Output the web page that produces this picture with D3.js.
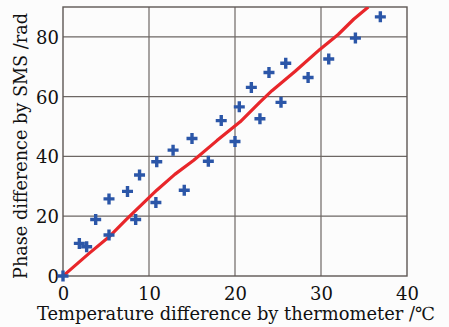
<html>
<head>
<meta charset="utf-8">
<style>
  body { margin: 0; background: #fcfcfc; }
  svg { display: block; }
  text { font-family: "DejaVu Serif", serif; fill: #111; }
</style>
</head>
<body>
<svg id="chart" width="449" height="327"></svg>
<script src="https://d3js.org/d3.v7.min.js"></script>
<script>
// measured points (thermometer dT, SMS phase)
const measTemp  = [0, 1.9, 2.75, 3.8, 5.35, 5.35, 7.5, 8.45, 8.9, 10.8, 10.9, 12.8, 14.1, 15.0, 16.9, 18.4, 20.0, 20.5, 21.9, 22.9, 23.95, 25.35, 25.9, 28.5, 30.9, 34.0, 36.9];
const measPhase = [0, 10.9, 9.8, 18.9, 25.8, 13.7, 28.3, 18.9, 33.8, 24.6, 38.2, 42.1, 28.7, 46.0, 38.4, 52.0, 45.0, 56.6, 63.1, 52.6, 68.1, 58.1, 71.2, 66.4, 72.6, 79.6, 86.7];

// red reference curve
const lineTemp  = [0, 3, 5.5, 7.4, 10.9, 13, 15.2, 17.9, 20.6, 22.9, 24.3, 27, 29.9, 32, 33.8, 35.5];
const linePhase = [0, 7.5, 13.5, 19, 28.7, 34, 38.7, 45.3, 51.6, 58.2, 62, 68.5, 75.9, 80.8, 85.9, 90];

const xTicks = [0, 10, 20, 30, 40];
const yTicks = [0, 20, 40, 60, 80];

const margin = { left: 63, top: 7, right: 42, bottom: 51 };
const svg = d3.select("#chart");
const W = 449 - margin.left - margin.right;
const H = 327 - margin.top - margin.bottom;

const x = d3.scaleLinear().domain([0, 40]).range([0, W]);
const y = d3.scaleLinear().domain([0, 90]).range([H, 0]);

const g = svg.append("g").attr("transform", `translate(${margin.left},${margin.top})`);

svg.append("defs").append("clipPath").attr("id", "clip")
  .append("rect").attr("width", W).attr("height", H);

// grid
g.selectAll(".vgrid").data(xTicks.slice(1, -1)).enter().append("line")
  .attr("x1", d => x(d)).attr("x2", d => x(d))
  .attr("y1", 0).attr("y2", H)
  .attr("stroke", "#6d6764").attr("stroke-width", 1.2);
g.selectAll(".hgrid").data(yTicks.slice(1)).enter().append("line")
  .attr("x1", 0).attr("x2", W)
  .attr("y1", d => y(d)).attr("y2", d => y(d))
  .attr("stroke", "#6d6764").attr("stroke-width", 1.2);

// frame
g.append("rect").attr("width", W).attr("height", H)
  .attr("fill", "none").attr("stroke", "#5e5855").attr("stroke-width", 1.4);

// axes (labels only)
const xAxis = g.append("g").attr("transform", `translate(0,${H})`)
  .call(d3.axisBottom(x).tickValues(xTicks).tickSize(0).tickPadding(6));
const yAxis = g.append("g")
  .call(d3.axisLeft(y).tickValues(yTicks).tickSize(0).tickPadding(4));
[xAxis, yAxis].forEach(a => {
  a.select(".domain").remove();
  a.selectAll("text").style("font-family", '"DejaVu Serif", serif')
    .style("font-size", "18px").attr("fill", "#111");
});
xAxis.selectAll("text").attr("y", 24).attr("dy", 0);
yAxis.selectAll("text").attr("dy", "0.36em");

// red line
const line = d3.line().x((d, i) => x(lineTemp[i])).y((d, i) => y(linePhase[i]));
g.append("path").datum(lineTemp)
  .attr("clip-path", "url(#clip)")
  .attr("d", line).attr("fill", "none")
  .attr("stroke", "#e8262a").attr("stroke-width", 3.2)
  .attr("stroke-linejoin", "round");

// crosses
const s = 5.5;
g.selectAll(".pt").data(measTemp).enter().append("path")
  .attr("transform", (d, i) => `translate(${x(d)},${y(measPhase[i])})`)
  .attr("d", `M${-s},0H${s}M0,${-s}V${s}`)
  .attr("stroke", "#2b56a8").attr("stroke-width", 3.4);

// titles
svg.append("text")
  .attr("x", 37).attr("y", 320)
  .attr("textLength", 398).attr("lengthAdjust", "spacingAndGlyphs")
  .style("font-size", "18px")
  .text("Temperature difference by thermometer /℃");
svg.append("text")
  .attr("transform", `translate(27,279) rotate(-90)`)
  .attr("textLength", 266).attr("lengthAdjust", "spacingAndGlyphs")
  .style("font-size", "18px")
  .text("Phase difference by SMS /rad");
</script>
</body>
</html>
